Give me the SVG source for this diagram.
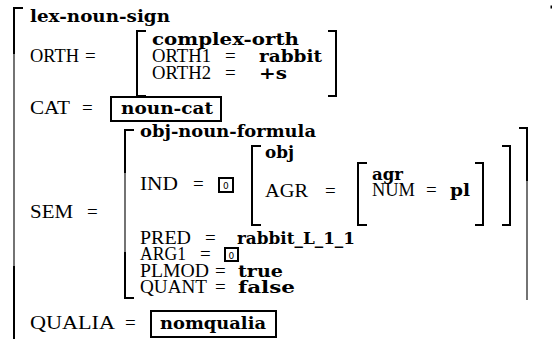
<svg xmlns="http://www.w3.org/2000/svg" width="552" height="339" viewBox="0 0 552 339">
  <style>
    .r { font-family: "Liberation Serif", "Times New Roman", serif; font-size: 19px; fill: #000; }
    .b { font-family: "DejaVu Serif", "Liberation Serif", serif; font-weight: bold; font-size: 16.5px; fill: #000; }
    .t { font-family: "DejaVu Sans", sans-serif; font-size: 9px; fill: #000; }
    .br { fill: none; stroke: #000; stroke-width: 2; stroke-linecap: square; }
    .thin { fill: none; stroke: #000; stroke-width: 1.1; }
    .box { fill: none; stroke: #000; stroke-width: 2; }
  </style>
  <rect width="552" height="339" fill="#fff"/>

  <!-- outer structure: lex-noun-sign -->
  <g id="lex-noun-sign">
    <path class="br" d="M22,8 H14 V53"/>
    <path class="thin" d="M14,53 V267"/>
    <path class="br" d="M14,267 V339"/>
    <rect x="550.5" y="5.5" width="1.5" height="3" fill="#000"/>
    <text class="b" x="30" y="22" textLength="140" lengthAdjust="spacingAndGlyphs">lex-noun-sign</text>
  </g>

  <!-- ORTH feature -->
  <g id="orth">
    <text class="r" x="30" y="62" textLength="49" lengthAdjust="spacingAndGlyphs">ORTH</text>
    <text class="r" x="85" y="62">=</text>
    <path class="br" d="M145,31 H137 V96 H145"/>
    <path class="br" d="M329,31 H336 V96 H329"/>
    <text class="b" x="152" y="45" textLength="147" lengthAdjust="spacingAndGlyphs">complex-orth</text>
    <text class="r" x="152" y="62" textLength="59" lengthAdjust="spacingAndGlyphs">ORTH1</text>
    <text class="r" x="225" y="62">=</text>
    <text class="b" x="259" y="62" textLength="63" lengthAdjust="spacingAndGlyphs">rabbit</text>
    <text class="r" x="152" y="79" textLength="59" lengthAdjust="spacingAndGlyphs">ORTH2</text>
    <text class="r" x="225" y="79">=</text>
    <text class="b" x="259" y="79" textLength="28" lengthAdjust="spacingAndGlyphs">+s</text>
  </g>

  <!-- CAT feature -->
  <g id="cat">
    <text class="r" x="30" y="114" textLength="40" lengthAdjust="spacingAndGlyphs">CAT</text>
    <text class="r" x="82" y="114">=</text>
    <rect class="box" x="111" y="97" width="110" height="24"/>
    <text class="b" x="121" y="114" textLength="92" lengthAdjust="spacingAndGlyphs">noun-cat</text>
  </g>

  <!-- SEM feature -->
  <g id="sem">
    <text class="r" x="30" y="218" textLength="43" lengthAdjust="spacingAndGlyphs">SEM</text>
    <text class="r" x="87" y="218">=</text>
    <path class="br" d="M133,130 H125 V172"/>
    <path class="thin" d="M125,172 V253"/>
    <path class="br" d="M125,253 V298 H133"/>
    <path class="br" d="M520,128 H527 V180"/>
    <path class="thin" d="M527,180 V300"/>
    <text class="b" x="140" y="137" textLength="176" lengthAdjust="spacingAndGlyphs">obj-noun-formula</text>

    <g id="ind">
      <text class="r" x="140" y="190" textLength="38" lengthAdjust="spacingAndGlyphs">IND</text>
      <text class="r" x="193" y="190">=</text>
      <rect class="box" x="219" y="178" width="14" height="14"/>
      <text class="t" x="223" y="189">0</text>
      <path class="br" d="M260,146 H252 V225 H260"/>
      <path class="br" d="M503,146 H510 V225 H503"/>
      <text class="b" x="265" y="158" textLength="29" lengthAdjust="spacingAndGlyphs">obj</text>
      <text class="r" x="265" y="197" textLength="43" lengthAdjust="spacingAndGlyphs">AGR</text>
      <text class="r" x="325" y="197">=</text>
    </g>

    <g id="agr">
      <path class="br" d="M366,163 H358 V225 H366"/>
      <path class="br" d="M476,163 H483 V225 H476"/>
      <text class="b" x="372" y="180" textLength="31" lengthAdjust="spacingAndGlyphs">agr</text>
      <text class="r" x="372" y="196" textLength="43" lengthAdjust="spacingAndGlyphs">NUM</text>
      <text class="r" x="426" y="196">=</text>
      <text class="b" x="450" y="196" textLength="20" lengthAdjust="spacingAndGlyphs">pl</text>
    </g>

    <g id="pred">
      <text class="r" x="140" y="244" textLength="51" lengthAdjust="spacingAndGlyphs">PRED</text>
      <text class="r" x="205" y="244">=</text>
      <text class="b" x="237" y="244" textLength="118" lengthAdjust="spacingAndGlyphs">rabbit_L_1_1</text>
    </g>
    <g id="arg1">
      <text class="r" x="140" y="260" textLength="46" lengthAdjust="spacingAndGlyphs">ARG1</text>
      <text class="r" x="200" y="260">=</text>
      <rect class="box" x="225" y="248" width="13" height="13"/>
      <text class="t" x="228.5" y="258.5">0</text>
    </g>
    <g id="plmod">
      <text class="r" x="140" y="277" textLength="69" lengthAdjust="spacingAndGlyphs">PLMOD</text>
      <text class="r" x="215" y="277">=</text>
      <text class="b" x="238" y="277" textLength="45" lengthAdjust="spacingAndGlyphs">true</text>
    </g>
    <g id="quant">
      <text class="r" x="140" y="293" textLength="67" lengthAdjust="spacingAndGlyphs">QUANT</text>
      <text class="r" x="215" y="293">=</text>
      <text class="b" x="238" y="293" textLength="57" lengthAdjust="spacingAndGlyphs">false</text>
    </g>
  </g>

  <!-- QUALIA feature -->
  <g id="qualia">
    <text class="r" x="30" y="329" textLength="85" lengthAdjust="spacingAndGlyphs">QUALIA</text>
    <text class="r" x="125" y="329">=</text>
    <rect class="box" x="151" y="311" width="125" height="26"/>
    <text class="b" x="160" y="329" textLength="106" lengthAdjust="spacingAndGlyphs">nomqualia</text>
  </g>
</svg>
